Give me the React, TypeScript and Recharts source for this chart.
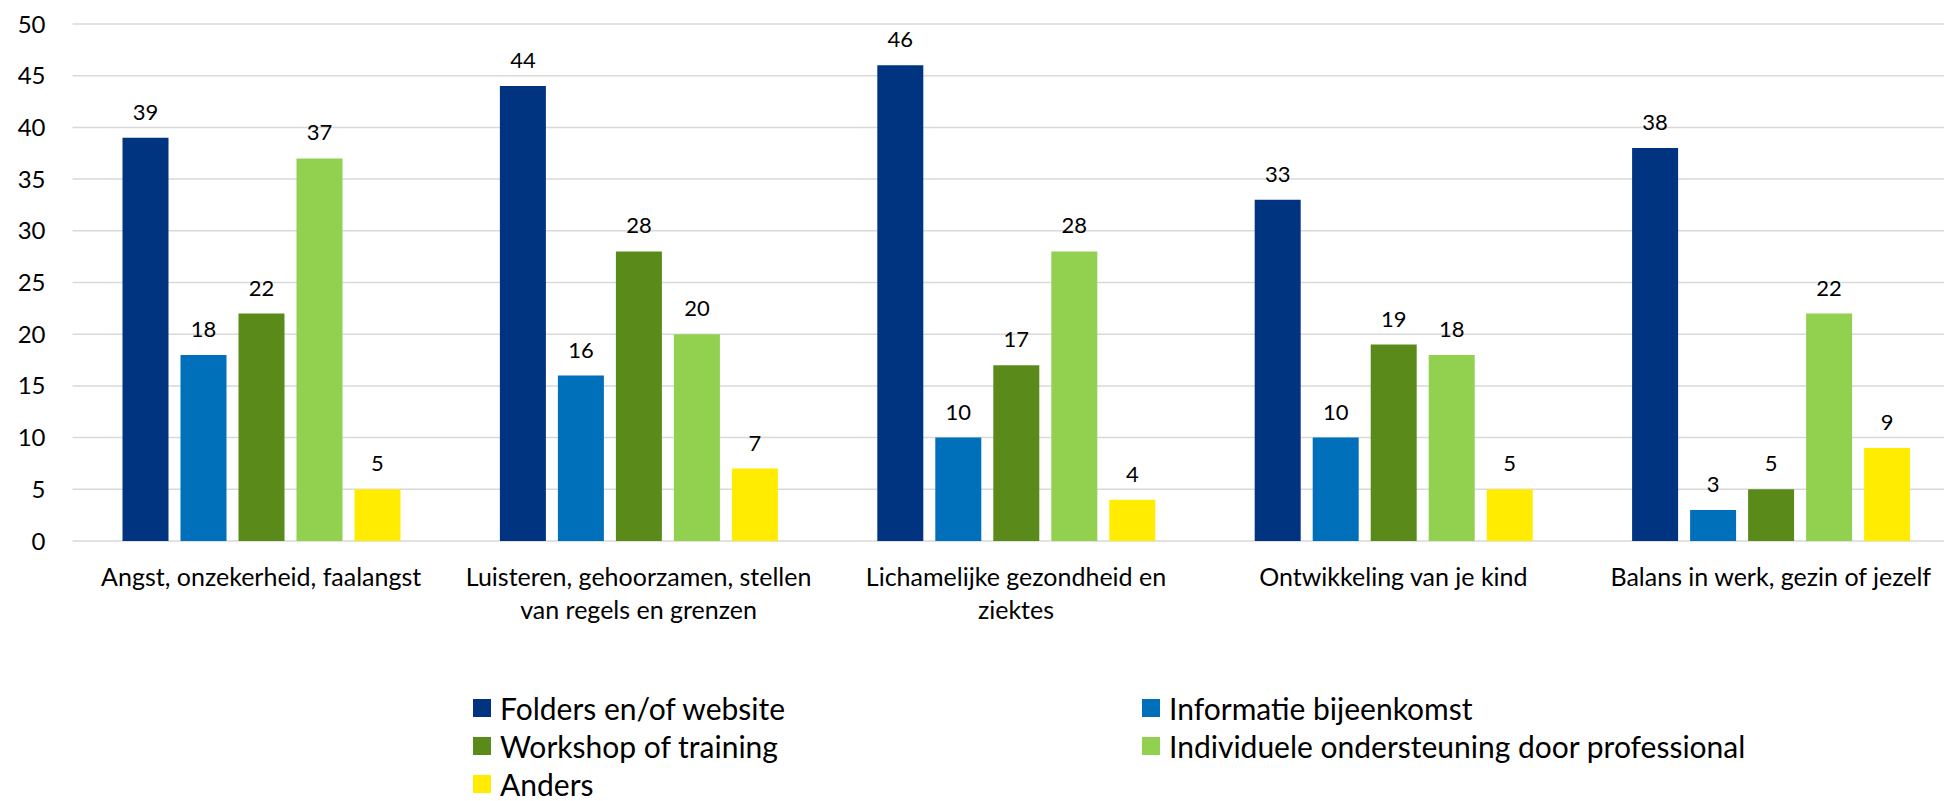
import { Bar, BarChart, CartesianGrid, LabelList, Legend, XAxis, YAxis } from "recharts"

// categories (line breaks where the original label wraps)
const categories = [
  "Angst, onzekerheid, faalangst",
  "Luisteren, gehoorzamen, stellen\nvan regels en grenzen",
  "Lichamelijke gezondheid en\nziektes",
  "Ontwikkeling van je kind",
  "Balans in werk, gezin of jezelf",
]

const folders = [39, 44, 46, 33, 38]
const informatie = [18, 16, 10, 10, 3]
const workshop = [22, 28, 17, 19, 5]
const individueel = [37, 20, 28, 18, 22]
const anders = [5, 7, 4, 5, 9]

const seriesNames = [
  "Folders en/of website",
  "Informatie bijeenkomst",
  "Workshop of training",
  "Individuele ondersteuning door professional",
  "Anders",
]
const seriesKeys = ["folders", "informatie", "workshop", "individueel", "anders"]
const seriesColors = ["#003380", "#0070BA", "#5A8B1A", "#92D050", "#FFEC00"]

const yTicks = [0, 5, 10, 15, 20, 25, 30, 35, 40, 45, 50]

const FONT = "Lato, 'Open Sans', sans-serif"

const data = categories.map((category, i) => ({
  category,
  folders: folders[i],
  informatie: informatie[i],
  workshop: workshop[i],
  individueel: individueel[i],
  anders: anders[i],
}))

function CategoryTick({ x, y, payload }: any) {
  const lines = String(payload.value).split("\n")
  return (
    <text x={x} y={y} textAnchor="middle" fontSize={25} fontFamily={FONT} fill="#000">
      {lines.map((line, i) => (
        <tspan key={i} x={x} y={y + 45 + i * 33}>
          {line}
        </tspan>
      ))}
    </text>
  )
}

function LegendBox() {
  return (
    <div
      style={{
        display: "grid",
        gridTemplateColumns: "669px 669px",
        marginLeft: 473,
        fontFamily: FONT,
        fontSize: 30,
        lineHeight: 1,
        color: "#000",
      }}
    >
      {seriesNames.map((name, i) => (
        <div key={name} style={{ display: "flex", alignItems: "center", height: 38, whiteSpace: "nowrap" }}>
          <span style={{ width: 18, height: 18, background: seriesColors[i], marginRight: 9, flex: "none" }} />
          <span>{name}</span>
        </div>
      ))}
    </div>
  )
}

export default function App() {
  return (
    <div style={{ width: 1944, height: 801, overflow: "hidden", background: "#fff" }}>
      <style>{"body{margin:0}"}</style>
      <BarChart
        width={1944}
        height={801}
        data={data}
        margin={{ top: 24, right: -15.5, left: 0, bottom: 160 }}
        barSize={46}
        barGap={12}
      >
        <CartesianGrid vertical={false} stroke="#d9d9d9" strokeWidth={1.5} />
        <XAxis
          dataKey="category"
          axisLine={false}
          tickLine={false}
          tickSize={0}
          tickMargin={0}
          height={100}
          interval={0}
          tick={<CategoryTick />}
        />
        <YAxis
          domain={[0, 50]}
          ticks={yTicks}
          width={72.5}
          axisLine={false}
          tickLine={false}
          tickSize={0}
          tickMargin={27}
          tick={{ fontSize: 24, fontFamily: FONT, fill: "#000" }}
        />
        <Legend
          layout="vertical"
          align="center"
          verticalAlign="middle"
          content={<LegendBox />}
          wrapperStyle={{ position: "absolute", top: 689, left: 0, width: 1944 }}
        />
        {seriesKeys.map((key, i) => (
          <Bar key={key} dataKey={key} name={seriesNames[i]} fill={seriesColors[i]} isAnimationActive={false}>
            <LabelList dataKey={key} position="top" offset={18} fontSize={22} fontFamily={FONT} fill="#000" />
          </Bar>
        ))}
      </BarChart>
    </div>
  )
}
